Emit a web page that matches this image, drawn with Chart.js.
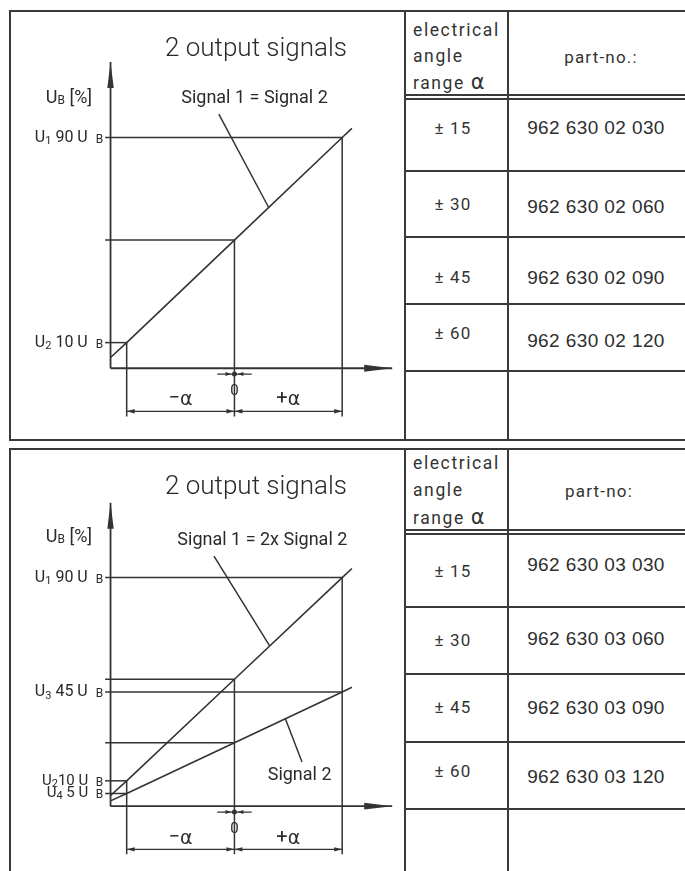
<!DOCTYPE html>
<html>
<head>
<meta charset="utf-8">
<script src="https://cdn.jsdelivr.net/npm/chart.js@4.4.1/dist/chart.umd.min.js"></script>
<style>
  body { margin: 0; width: 685px; height: 871px; overflow: hidden; position: relative; background: #fff; color: #2a2a2a;
         font-family: Roboto, "DejaVu Sans", sans-serif; font-weight: 400; }
  .box { position: absolute; border: 2px solid #3a3a3a; box-sizing: border-box; }
  .ln { position: absolute; background: #3a3a3a; }
  .t { position: absolute; white-space: nowrap; line-height: 1; }
  .c { transform: translate(-50%, -50%); }
  .l { transform: translate(0, -50%); }
  .iso { font-size: 17px; letter-spacing: 1.2px; color: #333; }
  .hd { font-size: 17.5px; letter-spacing: 1.6px; color: #333; }
  .part { font-family: "Liberation Sans", Arial, sans-serif; font-weight: 400; font-size: 19px; letter-spacing: 0.4px; color: #2e2e2e; }
  .alpha { font-family: "DejaVu Sans", sans-serif; font-size: 21px; letter-spacing: 0; }
  canvas { position: absolute; }
</style>
</head>
<body>
<div class="box" style="left:9px;top:10px;width:720px;height:431px"></div>
<div class="box" style="left:9px;top:448px;width:720px;height:500px"></div>
<canvas id="chartA" width="391" height="424" style="left:12px;top:13px"></canvas>
<canvas id="chartB" width="391" height="420" style="left:12px;top:451px"></canvas>

<script>
// ---- data (angle in units of alpha, output in % of U_B) ----
const angleX   = [-1.15, -1, 0, 1, 1.09];
const signalA  = [4.2, 10, 50, 90, 93.6];     // Signal 1 = Signal 2
const signal1B = [4.2, 10, 50, 90, 93.6];     // Signal 1
const signal2B = [2.1, 5, 25, 45, 46.8];      // Signal 2 (half of signal 1)

const levelsA = [90, 10];
const levelNamesA = ['1', '2'];
const levelsB = [90, 45, 10, 5];
const levelNamesB = ['1', '3', '2', '4'];

const anglesA  = ['± 15', '± 30', '± 45', '± 60'];
const partNosA = ['962 630 02 030', '962 630 02 060', '962 630 02 090', '962 630 02 120'];
const anglesB  = ['± 15', '± 30', '± 45', '± 60'];
const partNosB = ['962 630 03 030', '962 630 03 060', '962 630 03 090', '962 630 03 120'];

const INK = '#333';
const ISO = 'Roboto, "DejaVu Sans", sans-serif';
const GREEK = '"DejaVu Sans", sans-serif';
const GUIDE_X0 = -1.2;      // where the level lines start, left of the U axis
const AXIS_TOP = 119.5;
const AXIS_END = 1.464;

// ---- table (plain html) ----
function el(cls, style, html) {
  const d = document.createElement('div');
  d.className = cls;
  d.setAttribute('style', style);
  if (html !== undefined) d.innerHTML = html;
  document.body.appendChild(d);
  return d;
}
function buildTable(t) {
  el('ln', `left:404px;top:${t.top}px;width:2px;height:${t.bottom - t.top}px`);
  el('ln', `left:507px;top:${t.top}px;width:1.5px;height:${t.bottom - t.top}px`);
  el('ln', `left:404px;top:${t.hdr}px;width:300px;height:1.5px`);
  el('ln', `left:404px;top:${t.hdr + 4}px;width:300px;height:1.5px`);
  t.rows.forEach(y => el('ln', `left:404px;top:${y}px;width:300px;height:1.5px`));
  el('t l hd', `left:413px;top:${t.hy[0]}px`, 'electrical');
  el('t l hd', `left:413px;top:${t.hy[1]}px`, 'angle');
  el('t l hd', `left:413px;top:${t.hy[2]}px`, 'range <span class="alpha">α</span>');
  el('t c iso', `left:${t.px}px;top:${t.hy[1]}px`, t.head);
  t.angles.forEach((a, i) => el('t c iso', `left:453px;top:${t.ay[i]}px`, a));
  t.parts.forEach((p, i) => el('t c part', `left:596px;top:${t.py[i]}px`, p));
}
buildTable({ top: 11, bottom: 440, hdr: 94, rows: [170, 236, 303, 370], hy: [31, 57, 82], px: 601,
  head: 'part-no.:', angles: anglesA, parts: partNosA, ay: [128, 204, 277, 333], py: [127, 206, 277, 340] });
buildTable({ top: 449, bottom: 871, hdr: 529, rows: [606, 673, 741, 808], hy: [464, 491, 517], px: 599,
  head: 'part-no:', angles: anglesB, parts: partNosB, ay: [571, 640, 707, 771], py: [564, 638, 707, 776] });

// ---- chart helpers ----
function seg(x0, y0, x1, y1, w) {
  return { data: [{ x: x0, y: y0 }, { x: x1, y: y1 }], borderColor: INK, borderWidth: w || 1.5,
           pointRadius: 0, showLine: true };
}
function arrowHead(ctx, x, y, dx, dy, len, half) {
  const nx = -dy, ny = dx;
  ctx.beginPath();
  ctx.moveTo(x, y);
  ctx.lineTo(x - dx * len + nx * half, y - dy * len + ny * half);
  ctx.lineTo(x - dx * len - nx * half, y - dy * len - ny * half);
  ctx.closePath();
  ctx.fill();
}
// parts: [text, size, dy, family, weight]; drawn left to right, vertically centred on y
function runs(ctx, parts, x, y, align) {
  const font = p => `${p[4] || 400} ${p[1]}px ${p[3] || ISO}`;
  let w = 0;
  parts.forEach(p => { ctx.font = font(p); w += ctx.measureText(p[0]).width; });
  let cx = align === 'right' ? x - w : align === 'center' ? x - w / 2 : x;
  ctx.textBaseline = 'middle';
  ctx.textAlign = 'left';
  parts.forEach(p => {
    ctx.font = font(p);
    ctx.fillText(p[0], cx, y + (p[2] || 0));
    cx += ctx.measureText(p[0]).width;
  });
}

function makeChart(id, o) {
  const ds = [];
  const x0 = angleX[0];
  ds.push(seg(x0, 0, x0, AXIS_TOP, 1.8));
  ds.push(seg(x0, 0, AXIS_END, 0, 1.8));
  // level / extension lines from the points at -α, 0, +α
  o.signals.forEach(s => {
    [1, 2, 3].forEach(i => ds.push(seg(GUIDE_X0, s[i], angleX[i], s[i])));
  });
  [1, 2, 3].forEach(i => {
    const top = Math.max(...o.signals.map(s => s[i]));
    ds.push(seg(angleX[i], top, angleX[i], o.dimBottom));
  });
  // dimension line and zero marker
  ds.push(seg(angleX[1], o.dimY, angleX[3], o.dimY, 1.2));
  ds.push(seg(-0.16, o.zeroY, 0.16, o.zeroY, 1.2));
  ds.push({ data: [{ x: 0, y: o.zeroY }], pointRadius: 2.5, pointBackgroundColor: INK, borderWidth: 0, showLine: false });
  // leaders
  o.leaders.forEach(l => ds.push(seg(l[0], l[1], l[2], l[3], 1.5)));
  // signal traces
  o.signals.forEach(s => ds.push({ data: angleX.map((x, i) => ({ x, y: s[i] })), borderColor: INK,
    borderWidth: 1.6, pointRadius: 0, showLine: true }));

  const decor = {
    id: 'decor',
    afterDatasetsDraw(chart) {
      const { ctx, scales: { x, y } } = chart;
      const X = v => x.getPixelForValue(v), Y = v => y.getPixelForValue(v);
      ctx.save();
      ctx.fillStyle = INK;
      arrowHead(ctx, X(x0), Y(AXIS_TOP), 0, -1, 26, 3.2);
      arrowHead(ctx, X(AXIS_END), Y(0), 1, 0, 28, 3.4);
      arrowHead(ctx, X(angleX[1]), Y(o.dimY), -1, 0, 8, 2.2);
      arrowHead(ctx, X(angleX[2]), Y(o.dimY), 1, 0, 8, 2.2);
      arrowHead(ctx, X(angleX[2]), Y(o.dimY), -1, 0, 8, 2.2);
      arrowHead(ctx, X(angleX[3]), Y(o.dimY), 1, 0, 8, 2.2);
      arrowHead(ctx, X(0) - 3, Y(o.zeroY), 1, 0, 6, 2);
      arrowHead(ctx, X(0) + 3, Y(o.zeroY), -1, 0, 6, 2);

      ctx.fillStyle = '#2a2a2a';
      runs(ctx, [['2 output signals', 26, 0, ISO, 300]], X(o.title[0]), Y(o.title[1]), 'center');
      runs(ctx, [['U', 18], ['B', 12, 3], [' [%]', 18]], X(-1.536), Y(o.ubY), 'center');
      runs(ctx, [[o.sigText, 18]], X(o.sigLabel[0]), Y(o.sigLabel[1]), 'center');
      if (o.sig2Label) runs(ctx, [['Signal 2', 18]], X(o.sig2Label[0]), Y(o.sig2Label[1]), 'center');
      o.levels.forEach((v, i) => {
        const small = o.tight && v <= 10;
        const gap = o.tight && v === 10 ? '' : ' ';
        const fs = small ? 15 : 16;
        runs(ctx, [['U', fs], [o.levelNames[i], 11, small ? 3 : 4], [gap + v + ' U  ', fs], ['B', 12, 2]],
             X(GUIDE_X0) - 2, Y(v), 'right');
      });
      runs(ctx, [['0', 15]], X(0), Y(o.zeroLabel), 'center');
      runs(ctx, [['−', 20], ['α', 19, 1, GREEK]], X(-0.5), Y(o.alphaY), 'center');
      runs(ctx, [['+', 20], ['α', 19, 1, GREEK]], X(0.5), Y(o.alphaY), 'center');
      ctx.restore();
    }
  };

  return new Chart(document.getElementById(id), {
    type: 'scatter',
    data: { datasets: ds },
    options: {
      responsive: false,
      animation: false,
      events: [],
      layout: { padding: 0 },
      plugins: { legend: { display: false }, tooltip: { enabled: false } },
      scales: {
        x: { type: 'linear', display: false, min: o.xMin, max: o.xMax },
        y: { type: 'linear', display: false, min: o.yMin, max: o.yMax }
      }
    },
    plugins: [decor]
  });
}

makeChart('chartA', {
  xMin: -2.0273, xMax: 1.5273, yMin: -25.27, yMax: 137.03,
  signals: [signalA], levels: levelsA, levelNames: levelNamesA,
  dimY: -16.8, dimBottom: -18.8, zeroY: -2.3, zeroLabel: -8.8, alphaY: -11.9,
  title: [0.2, 124.4], ubY: 105.3, sigText: 'Signal 1 = Signal 2', sigLabel: [0.186, 105.3],
  leaders: [[-0.145, 99.1, 0.318, 62.7]]
});
makeChart('chartB', {
  xMin: -2.0273, xMax: 1.5273, yMin: -23.94, yMax: 138.28,
  signals: [signal1B, signal2B], levels: levelsB, levelNames: levelNamesB, tight: true,
  dimY: -17.0, dimBottom: -18.9, zeroY: -2.3, zeroLabel: -9.2, alphaY: -12.4,
  title: [0.2, 125.5], ubY: 105.8, sigText: 'Signal 1 = 2x Signal 2', sigLabel: [0.259, 104.7],
  sig2Label: [0.605, 12.0],
  leaders: [[-0.19, 98.5, 0.327, 63.1], [0.473, 34.45, 0.627, 17.4]]
});
</script>
</body>
</html>
